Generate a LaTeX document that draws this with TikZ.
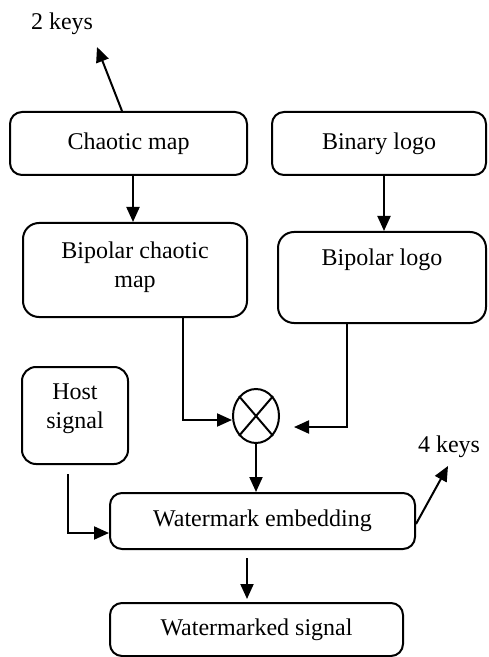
\documentclass[tikz,border=0pt]{standalone}
\usepackage{fontspec}
\setmainfont{Liberation Serif}
\usetikzlibrary{arrows.meta,shapes.geometric}
\begin{document}
\begin{tikzpicture}[x=0.5pt,y=-0.5pt,
  box/.style={draw,line width=1pt,rounded corners=6pt,align=center,inner sep=0pt,font=\fontsize{12}{14.5}\selectfont},
  arr/.style={line width=1pt,-{Triangle[length=7.5pt,width=6.5pt]}},
  lbl/.style={font=\fontsize{12}{14}\selectfont,inner sep=0pt}]
\useasboundingbox (0,0) rectangle (488,657);
\node[box,minimum width=118.5pt,minimum height=31.5pt] (cm) at (128.5,143.5) {Chaotic map};
\node[box,minimum width=107pt,minimum height=31.5pt] (bin) at (379,143.5) {Binary logo};
\node[box,rounded corners=8pt,minimum width=112pt,minimum height=47pt] (bcm) at (135,270) {};
\node[box,draw=none] at (135,267) {Bipolar chaotic\\map};
\node[box,rounded corners=8pt,minimum width=104pt,minimum height=45.5pt] (bl) at (382,277.5) {};
\node[box,draw=none] at (382,260) {Bipolar logo};
\node[box,rounded corners=7pt,minimum width=53pt,minimum height=48.5pt] (host) at (75,415.5) {};
\node[box,draw=none] at (75,409) {Host\\signal};
\node[draw,ellipse,line width=1pt,minimum width=23pt,minimum height=27pt,inner sep=0pt] (mult) at (256,416) {};
\draw[line width=1pt] (mult.north west) -- (mult.south east) (mult.north east) -- (mult.south west);
\node[box,minimum width=152.5pt,minimum height=28pt] (we) at (262.5,521) {Watermark embedding};
\node[box,minimum width=146.5pt,minimum height=26.5pt] (ws) at (256.5,629.5) {Watermarked signal};
\node[lbl] (k2) at (62,24) {2 keys};
\node[lbl] (k4) at (449,447) {4 keys};
\coordinate (k2end) at (97,47);
\coordinate (k4end) at (448,466);
% connectors
\draw[arr] ([xshift=-3.25pt]cm.north) -- (k2end);
\draw[arr] ([xshift=-1pt]bcm.north |- cm.south) -- ([xshift=-1pt]bcm.north);
\draw[arr] ([xshift=1pt]bl.north |- bin.south) -- ([xshift=1pt]bl.north);
\draw[arr] ([xshift=24pt]bcm.south) |- ([yshift=-2pt]mult.west);
\draw[arr] ([xshift=-17.5pt]bl.south) |- ([xshift=7pt,yshift=-5.5pt]mult.east);
\draw[arr] (mult.south) -- (mult.south |- we.north);
\draw[arr] ([xshift=-3.5pt,yshift=-4.5pt]host.south) |- ([yshift=-6pt]we.west);
\draw[arr] ([yshift=-1.5pt]we.east) -- (k4end);
\draw[arr] ([xshift=-7.75pt,yshift=-4pt]we.south) -- ([xshift=-4.75pt,yshift=1.5pt]ws.north);
\end{tikzpicture}
\end{document}
